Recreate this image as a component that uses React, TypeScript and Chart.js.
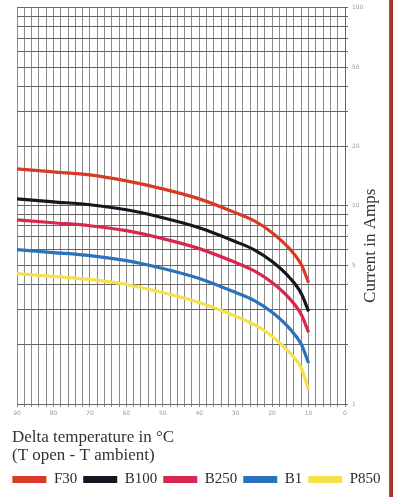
import React, { useEffect, useRef } from "react";
import { Chart, registerables } from "chart.js";

Chart.register(...registerables);

// Delta temperature (T open - T ambient), °C
const temps = [90, 80, 70, 60, 50, 40, 30, 25, 20, 15, 12, 10];

// Current in Amps for each cable type
const F30 = [15.35, 14.82, 14.31, 13.35, 12.17, 10.84, 9.22, 8.41, 7.32, 6.01, 5.05, 4.1];
const B100 = [10.84, 10.47, 10.12, 9.55, 8.71, 7.75, 6.59, 6.01, 5.23, 4.3, 3.61, 2.93];
const B250 = [8.5, 8.21, 7.93, 7.49, 6.83, 6.08, 5.17, 4.71, 4.1, 3.37, 2.83, 2.3];
const B1 = [6.01, 5.81, 5.61, 5.29, 4.83, 4.3, 3.65, 3.33, 2.9, 2.38, 2.0, 1.61];
const P850 = [4.55, 4.4, 4.25, 4.01, 3.65, 3.25, 2.77, 2.52, 2.2, 1.8, 1.52, 1.18];

const seriesNames = ["F30", "B100", "B250", "B1", "P850"];
const seriesValues = [F30, B100, B250, B1, P850];
const seriesColors = ["#d93a26", "#161622", "#d9264f", "#2a72bd", "#f3e24e"];

// Axis ticks
const xTickLabels = [90, 80, 70, 60, 50, 40, 30, 20, 10, 0];
const yGridValues = [1, 2, 3, 4, 5, 6, 7, 8, 9, 10, 20, 30, 40, 50, 60, 70, 80, 90, 100];
const yTickLabels = [1, 5, 10, 20, 50, 100];

const xTitle = ["Delta temperature in \u00B0C", "(T open - T ambient)"];
const yTitle = "Current in Amps";

const serif = "'Liberation Serif', 'DejaVu Serif', serif";

export default function App() {
  const ref = useRef<HTMLCanvasElement | null>(null);

  useEffect(() => {
    document.body.style.margin = "0";
    const canvas = ref.current;
    if (!canvas) return;

    const titlesPlugin = {
      id: "axisTitles",
      afterDraw(chart: any) {
        const ctx = chart.ctx;
        const area = chart.chartArea;
        const xs = chart.scales.x;
        ctx.save();
        // y-axis title, reading bottom to top, right of the tick labels
        ctx.translate(371, (area.top + area.bottom) / 2 + 40);
        ctx.rotate(-Math.PI / 2);
        ctx.fillStyle = "#333";
        ctx.font = `17px ${serif}`;
        ctx.textAlign = "center";
        ctx.textBaseline = "middle";
        ctx.fillText(yTitle, 0, 0);
        ctx.restore();

        // x-axis title, two lines, left aligned below the tick labels
        ctx.save();
        ctx.fillStyle = "#333";
        ctx.font = `17px ${serif}`;
        ctx.textAlign = "left";
        ctx.textBaseline = "middle";
        xTitle.forEach((line, i) => {
          ctx.fillText(line, area.left - 5, xs.top + 34 + i * 18);
        });
        ctx.restore();
      },
    };

    const chart = new Chart(canvas, {
      type: "line",
      data: {
        datasets: seriesNames.map((name, i) => ({
          label: name,
          data: temps.map((t, j) => ({ x: t, y: seriesValues[i][j] })),
          borderColor: seriesColors[i],
          backgroundColor: seriesColors[i],
          borderWidth: 3.2,
          pointRadius: 0,
          cubicInterpolationMode: "monotone" as const,
          fill: false,
          yAxisID: "y",
        })),
      },
      options: {
        animation: false,
        responsive: false,
        devicePixelRatio: 1,
        layout: { padding: { left: 0, right: 0, top: 5, bottom: 0 } },
        plugins: {
          tooltip: { enabled: false },
          legend: {
            position: "bottom",
            labels: {
              boxWidth: 34,
              boxHeight: 7,
              padding: 6,
              color: "#2b2b2b",
              font: { family: serif, size: 15 },
              generateLabels: (c: any) =>
                Chart.defaults.plugins.legend.labels
                  .generateLabels(c)
                  .map((l: any) => ({ ...l, lineWidth: 0 })),
            },
          },
        },
        scales: {
          x: {
            type: "linear",
            reverse: true,
            min: 0,
            max: 90,
            afterFit: (s: any) => {
              s.height = 62;
            },
            ticks: {
              stepSize: 2,
              autoSkip: false,
              maxRotation: 0,
              padding: 3,
              color: "#9a9a9a",
              font: { family: "'DejaVu Sans', sans-serif", size: 6 },
              callback: (v: any) => (xTickLabels.includes(Number(v)) ? String(v) : ""),
            },
            grid: { color: "#8a8a8a", lineWidth: 1, tickLength: 3 },
            border: { color: "#666" },
            title: { display: false },
          },
          yLeftSpace: {
            type: "linear",
            position: "left",
            afterFit: (s: any) => {
              s.width = 17;
            },
            ticks: { display: false },
            grid: { display: false, drawTicks: false },
            border: { display: false },
          },
          y: {
            type: "logarithmic",
            position: "right",
            min: 1,
            max: 100,
            afterFit: (s: any) => {
              s.width = 48;
            },
            afterBuildTicks: (s: any) => {
              s.ticks = yGridValues.map((v) => ({ value: v }));
            },
            ticks: {
              autoSkip: false,
              padding: 4,
              color: "#9a9a9a",
              font: { family: "'DejaVu Sans', sans-serif", size: 6 },
              callback: (v: any) => (yTickLabels.includes(Number(v)) ? String(v) : ""),
            },
            grid: { color: "#666", lineWidth: 1, tickLength: 3 },
            border: { color: "#666" },
          },
        },
      },
      plugins: [titlesPlugin],
    });

    return () => chart.destroy();
  }, []);

  return (
    <div style={{ position: "relative", width: 393, height: 497, background: "#fff" }}>
      <canvas ref={ref} width={393} height={497} style={{ display: "block" }} />
      <div
        style={{
          position: "absolute",
          left: 389,
          top: 0,
          width: 4,
          height: 497,
          background: "linear-gradient(to right, #c0473a, #9b2b22)",
        }}
      />
    </div>
  );
}
